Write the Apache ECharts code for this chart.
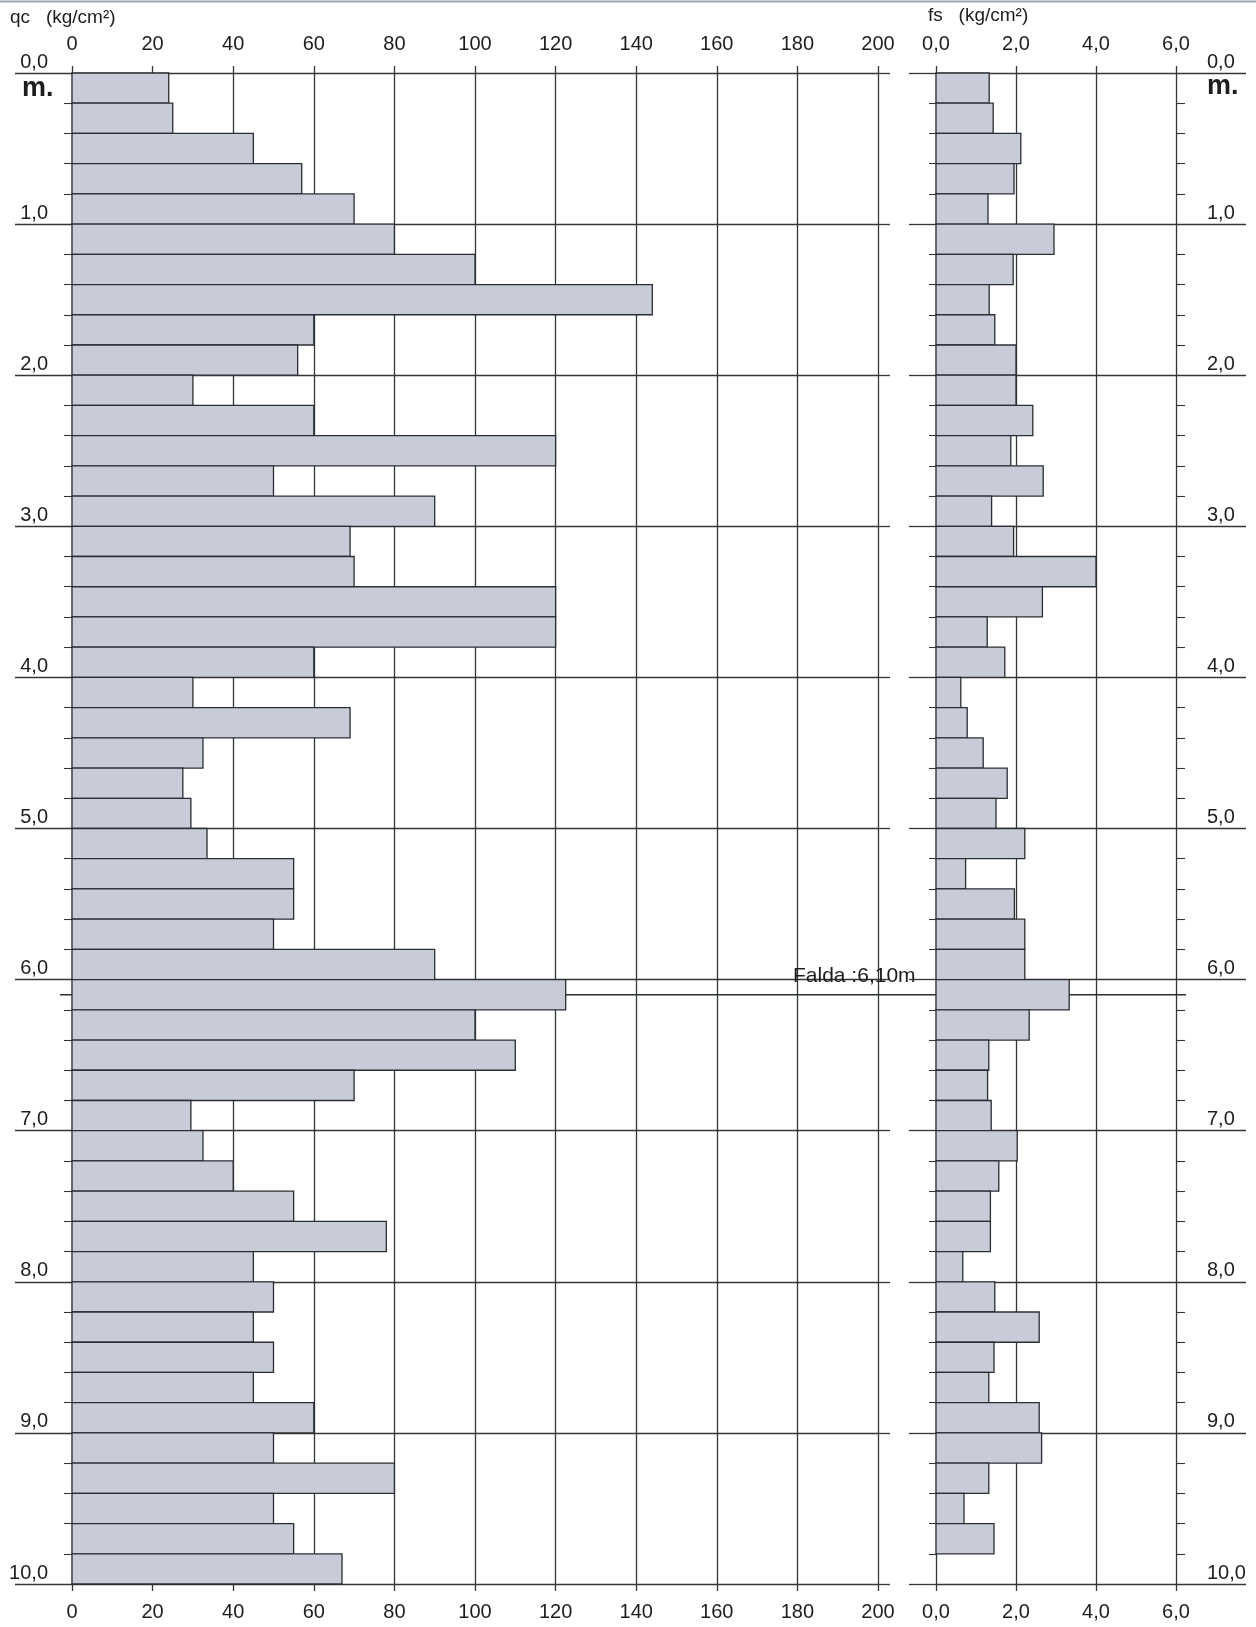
<!DOCTYPE html>
<html>
<head>
<meta charset="utf-8">
<title>Prova penetrometrica – qc / fs</title>
<script src="https://cdn.jsdelivr.net/npm/echarts@6/dist/echarts.min.js"></script>
<style>
  html, body { margin: 0; padding: 0; background: #ffffff; }
  #chart { width: 1256px; height: 1627px; }
</style>
</head>
<body>
<div id="chart"></div>
<script>
// Depth of the top of each 0.20 m reading (m)
const depthTop = [
  0.0, 0.2, 0.4, 0.6, 0.8, 1.0, 1.2, 1.4, 1.6, 1.8,
  2.0, 2.2, 2.4, 2.6, 2.8, 3.0, 3.2, 3.4, 3.6, 3.8,
  4.0, 4.2, 4.4, 4.6, 4.8, 5.0, 5.2, 5.4, 5.6, 5.8,
  6.0, 6.2, 6.4, 6.6, 6.8, 7.0, 7.2, 7.4, 7.6, 7.8,
  8.0, 8.2, 8.4, 8.6, 8.8, 9.0, 9.2, 9.4, 9.6, 9.8
];
const STEP = 0.2;

// Cone resistance qc (kg/cm²)
const qc = [
  24, 25, 45, 57, 70, 80, 100, 144, 60, 56,
  30, 60, 120, 50, 90, 69, 70, 120, 120, 60,
  30, 69, 32.5, 27.5, 29.5, 33.5, 55, 55, 50, 90,
  122.5, 100, 110, 70, 29.5, 32.5, 40, 55, 78, 45,
  50, 45, 50, 45, 60, 50, 80, 50, 55, 67
];

// Sleeve friction fs (kg/cm²) – no reading in the last interval
const fs = [
  1.33, 1.43, 2.12, 1.95, 1.30, 2.95, 1.93, 1.33, 1.47, 2.00,
  2.00, 2.42, 1.87, 2.68, 1.39, 1.94, 4.00, 2.66, 1.28, 1.72,
  0.62, 0.78, 1.18, 1.78, 1.50, 2.22, 0.74, 1.96, 2.22, 2.22,
  3.33, 2.33, 1.32, 1.29, 1.38, 2.03, 1.57, 1.36, 1.36, 0.67,
  1.47, 2.58, 1.45, 1.32, 2.58, 2.64, 1.32, 0.70, 1.45
];

// Axis ticks
const qcTicks = [0, 20, 40, 60, 80, 100, 120, 140, 160, 180, 200];
const fsTicks = [0, 2, 4, 6];
const depthTicks = [0, 1, 2, 3, 4, 5, 6, 7, 8, 9, 10];

// Water table
const waterTableDepth = 6.10;
const waterTableLabel = 'Falda :6,10m';

const FONT = "'Liberation Sans', Arial, sans-serif";
const TEXT = '#1d1d1f';
const GRID_V = '#2f373b';
const GRID_H = '#3a3333';
const BAR_FILL = '#c8ccd8';
const BAR_EDGE = '#2a2e33';

const comma1 = v => Number(v).toFixed(1).replace('.', ',');

const chart = echarts.init(document.getElementById('chart'), null, { renderer: 'canvas' });

function xAxisDef(grid, ticks, pos, fmt, split) {
  return {
    type: 'value', gridIndex: grid, position: pos,
    min: ticks[0], max: ticks[ticks.length - 1], interval: ticks[1] - ticks[0],
    axisLine: { show: false, onZero: false },
    axisTick: { show: true, inside: false, length: 7, lineStyle: { color: GRID_V, width: 1.3 } },
    axisLabel: { show: true, margin: pos === 'top' ? 19 : 18, fontSize: 20, fontFamily: FONT, color: TEXT, formatter: fmt },
    splitLine: { show: split, lineStyle: { color: GRID_V, width: 1.3 } }
  };
}

function yAxisDef(grid, pos, tickLen, minorLen, labels, split) {
  return {
    type: 'value', gridIndex: grid, position: pos, inverse: true,
    min: depthTicks[0], max: depthTicks[depthTicks.length - 1], interval: depthTicks[1] - depthTicks[0],
    axisLine: { show: false, onZero: false },
    axisTick: { show: tickLen > 0, inside: false, length: tickLen, lineStyle: { color: GRID_H, width: 1.3 } },
    minorTick: { show: minorLen > 0, splitNumber: 5, length: minorLen, lineStyle: { color: GRID_H, width: 1.1 } },
    axisLabel: labels ? {
      show: true, fontSize: 20, fontFamily: FONT, color: TEXT,
      verticalAlign: 'bottom', align: pos === 'left' ? 'right' : 'left',
      margin: pos === 'left' ? 24 : 31, padding: [0, 0, 1, 0],
      formatter: comma1
    } : { show: false },
    splitLine: { show: split, lineStyle: { color: GRID_H, width: 1.3 } }
  };
}

function barRenderer(params, api) {
  const top = api.value(1);
  const val = api.value(0);
  const p0 = api.coord([0, top]);
  const p1 = api.coord([val, top + STEP]);
  return {
    type: 'rect',
    shape: { x: p0[0], y: p0[1], width: p1[0] - p0[0], height: p1[1] - p0[1] },
    style: { fill: BAR_FILL, stroke: BAR_EDGE, lineWidth: 1.3 }
  };
}

const option = {
  backgroundColor: '#ffffff',
  animation: false,
  grid: [
    { left: 72, top: 73, width: 806, height: 1511 },
    { left: 936, top: 73, width: 240, height: 1511 }
  ],
  xAxis: [
    xAxisDef(0, qcTicks, 'top', v => String(v), true),
    xAxisDef(0, qcTicks, 'bottom', v => String(v), false),
    xAxisDef(1, fsTicks, 'top', comma1, true),
    xAxisDef(1, fsTicks, 'bottom', comma1, false)
  ],
  yAxis: [
    yAxisDef(0, 'left', 57, 8, true, true),
    yAxisDef(0, 'right', 12, 0, false, false),
    yAxisDef(1, 'left', 27, 7, false, true),
    yAxisDef(1, 'right', 70, 9, true, false)
  ],
  series: [
    {
      name: 'qc', type: 'custom', xAxisIndex: 0, yAxisIndex: 0, z: 3,
      encode: { x: 0, y: 1 },
      data: depthTop.map((d, i) => [qc[i], d]),
      renderItem: barRenderer
    },
    {
      name: 'fs', type: 'custom', xAxisIndex: 2, yAxisIndex: 2, z: 3,
      encode: { x: 0, y: 1 },
      data: fs.map((v, i) => [v, depthTop[i]]),
      renderItem: barRenderer
    }
  ]
};

chart.setOption(option);

// Water-table line and labels placed from the depth scale
const yWater = chart.convertToPixel({ yAxisIndex: 0 }, waterTableDepth);
const yZero = chart.convertToPixel({ yAxisIndex: 0 }, depthTicks[0]);

chart.setOption({
  graphic: [
    { type: 'line', z: 0, shape: { x1: 0, y1: 1.5, x2: 1256, y2: 1.5 },
      style: { stroke: '#7d9499', lineWidth: 2, opacity: 0.8 } },
    { type: 'line', z: 1, shape: { x1: 60, y1: yWater, x2: 1186, y2: yWater },
      style: { stroke: '#2a2f33', lineWidth: 1.6 } },
    { type: 'text', z: 5, left: 793, top: yWater - 29,
      style: { text: waterTableLabel, font: '21px ' + FONT, fill: TEXT } },
    { type: 'text', z: 5, left: 10, top: 8,
      style: { text: 'qc   (kg/cm²)', font: '19px ' + FONT, fill: TEXT } },
    { type: 'text', z: 5, left: 928, top: 6,
      style: { text: 'fs   (kg/cm²)', font: '19px ' + FONT, fill: TEXT } },
    { type: 'text', z: 5, left: 22, top: yZero + 2,
      style: { text: 'm.', font: 'bold 27px ' + FONT, fill: TEXT } },
    { type: 'text', z: 5, left: 1207, top: yZero + 0,
      style: { text: 'm.', font: 'bold 27px ' + FONT, fill: TEXT } }
  ]
});
</script>
</body>
</html>
